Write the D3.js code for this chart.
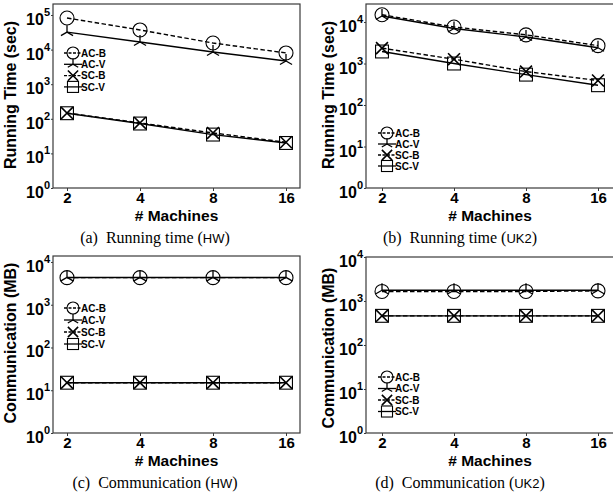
<!DOCTYPE html>
<html><head><meta charset="utf-8">
<script src="https://cdn.jsdelivr.net/npm/d3@7"></script>
<style>
html,body{margin:0;padding:0;background:#fff;}
svg{display:block;}
</style></head>
<body>
<svg id="chart" width="613" height="495"></svg>
<script>
// ---- data ----
const machines = [2, 4, 8, 16];
const xTickLabels = ["2", "4", "8", "16"];
const seriesNames = ["AC-B", "AC-V", "SC-B", "SC-V"];
const seriesDashed = [true, false, true, false];
const seriesMarkers = ["circle", "tristar", "cross", "square"];

// (a) Running time (HW), seconds
const hwTimeACB = [82000, 37000, 15500, 8000];
const hwTimeACV = [32000, 16600, 8500, 4700];
const hwTimeSCB = [147, 76, 39, 21];
const hwTimeSCV = [145, 73, 35, 20];
// (b) Running time (UK2), seconds
const uk2TimeACB = [15000, 7600, 4900, 2700];
const uk2TimeACV = [14000, 7000, 4350, 2400];
const uk2TimeSCB = [2350, 1270, 640, 390];
const uk2TimeSCV = [1950, 1000, 540, 300];
// (c) Communication (HW), MB
const hwCommACB = [4300, 4300, 4300, 4300];
const hwCommACV = [4350, 4350, 4350, 4350];
const hwCommSCB = [15, 15, 15, 15];
const hwCommSCV = [15, 15, 15, 15];
// (d) Communication (UK2), MB
const uk2CommACB = [1650, 1650, 1650, 1700];
const uk2CommACV = [1750, 1750, 1750, 1750];
const uk2CommSCB = [460, 460, 460, 460];
const uk2CommSCV = [460, 460, 460, 460];

const yTickExponents = [0, 1, 2, 3, 4, 5];

const svg = d3.select("#chart");
const SANS = "'Liberation Sans', Arial, sans-serif";
const SERIF = "'Liberation Serif', 'Times New Roman', serif";

function drawMarker(g, type, cx, cy, s) {
  const st = "#000";
  if (type === "circle") {
    g.append("circle").attr("cx", cx).attr("cy", cy).attr("r", s)
      .attr("fill", "none").attr("stroke", st).attr("stroke-width", 1.1);
  } else if (type === "tristar") {
    [-90, 150, 30].forEach(a => {
      const r = a * Math.PI / 180;
      g.append("line").attr("x1", cx).attr("y1", cy)
        .attr("x2", cx + s * Math.cos(r)).attr("y2", cy + s * Math.sin(r))
        .attr("stroke", st).attr("stroke-width", 1.3);
    });
  } else if (type === "cross") {
    const d = s * 0.85;
    g.append("path").attr("d", `M${cx-d},${cy-d}L${cx+d},${cy+d}M${cx-d},${cy+d}L${cx+d},${cy-d}`)
      .attr("stroke", st).attr("stroke-width", 1.6).attr("fill", "none");
  } else if (type === "square") {
    const d = s * 0.92;
    g.append("rect").attr("x", cx - d).attr("y", cy - d).attr("width", 2 * d).attr("height", 2 * d)
      .attr("fill", "none").attr("stroke", st).attr("stroke-width", 1.1);
  }
}

function drawPanel(cfg) {
  const g = svg.append("g");
  const x = d3.scaleLog().base(2).domain([2, 16]).range([cfg.x2, cfg.x16]);
  const y = d3.scaleLog().domain([1, cfg.yMax]).range([cfg.bottom, cfg.top]);

  // frame
  g.append("rect").attr("x", cfg.left).attr("y", cfg.top)
    .attr("width", cfg.right - cfg.left).attr("height", cfg.bottom - cfg.top)
    .attr("fill", "none").attr("stroke", "#3a3a3a").attr("stroke-width", 1.2);

  // x axis
  const xAxis = d3.axisBottom(x).tickValues(machines)
    .tickFormat((d, i) => xTickLabels[i]).tickSize(3).tickPadding(1);
  const xg = g.append("g").attr("transform", `translate(0,${cfg.bottom})`).call(xAxis);
  xg.select(".domain").remove();
  xg.selectAll(".tick line").attr("stroke", "#3a3a3a");
  xg.selectAll(".tick text").attr("font-family", SANS).attr("font-weight", "bold")
    .attr("font-size", 15).attr("fill", "#000").attr("dy", "0.71em");

  // y axis
  const yVals = yTickExponents.map(e => Math.pow(10, e)).filter(v => v <= cfg.yMax * 1.001);
  const yAxis = d3.axisLeft(y).tickValues(yVals).tickFormat("").tickSize(2);
  const yg = g.append("g").attr("transform", `translate(${cfg.left},0)`).call(yAxis);
  yg.select(".domain").remove();
  yg.selectAll(".tick line").attr("stroke", "#3a3a3a");
  yVals.forEach(v => {
    const e = Math.round(Math.log10(v));
    const t = g.append("text").attr("x", cfg.left - 3).attr("y", y(v) + 10)
      .attr("text-anchor", "end").attr("font-family", SANS).attr("font-weight", "bold")
      .attr("font-size", 16).attr("fill", "#000");
    t.append("tspan").text("10");
    t.append("tspan").attr("font-size", 11).attr("dy", -9).text(String(e));
  });

  // axis titles
  g.append("text").attr("x", (cfg.x2 + cfg.x16) / 2).attr("y", cfg.bottom + 32.5)
    .attr("text-anchor", "middle").attr("font-family", SANS).attr("font-weight", "bold")
    .attr("font-size", 15.5).text("# Machines");
  g.append("text").attr("transform", `translate(${cfg.titleX},${cfg.titleY}) rotate(-90)`)
    .attr("text-anchor", "middle").attr("font-family", SANS).attr("font-weight", "bold")
    .attr("font-size", 16).text(cfg.yTitle);

  // series
  const line = d3.line().x((d, i) => x(machines[i])).y(d => y(d));
  cfg.series.forEach((vals, si) => {
    g.append("path").datum(vals).attr("d", line).attr("fill", "none")
      .attr("stroke", "#000").attr("stroke-width", 1.4)
      .attr("stroke-dasharray", seriesDashed[si] ? "4.5,2.5" : null);
  });
  cfg.series.forEach((vals, si) => {
    vals.forEach((v, i) => drawMarker(g, seriesMarkers[si], x(machines[i]), y(v), 7));
  });

  // legend
  seriesNames.forEach((name, si) => {
    const ly = cfg.legY + si * cfg.legGap;
    g.append("line").attr("x1", cfg.legX - 9).attr("x2", cfg.legX + 9)
      .attr("y1", ly).attr("y2", ly).attr("stroke", "#000").attr("stroke-width", 1.3)
      .attr("stroke-dasharray", seriesDashed[si] ? "3,1.5" : null);
    drawMarker(g, seriesMarkers[si], cfg.legX, ly, 6);
    g.append("text").attr("x", cfg.legX + 8).attr("y", ly + 3.6)
      .attr("font-family", SANS).attr("font-weight", "bold").attr("font-size", 10)
      .text(name);
  });

  // caption
  const cap = g.append("text").attr("x", cfg.capX).attr("y", cfg.capY)
    .attr("text-anchor", "middle").attr("font-family", SERIF).attr("font-size", 16).attr("fill", "#000");
  cap.append("tspan").text(cfg.capText + " (");
  cap.append("tspan").attr("font-family", SANS).attr("font-size", 13).text(cfg.capData);
  cap.append("tspan").text(")");
}

drawPanel({id: "a", left: 53, right: 300, top: 4, bottom: 188, x2: 67, x16: 286,
  yMax: 208000, yTitle: "Running Time (sec)", titleX: 16, titleY: 95,
  series: [hwTimeACB, hwTimeACV, hwTimeSCB, hwTimeSCV],
  legX: 73, legY: 53, legGap: 11.3, capX: 155, capY: 243,
  capText: "(a)\u2002Running time", capData: "HW"});
drawPanel({id: "b", left: 366, right: 625, top: 4, bottom: 188, x2: 382, x16: 598,
  yMax: 27200, yTitle: "Running Time (sec)", titleX: 334, titleY: 95,
  series: [uk2TimeACB, uk2TimeACV, uk2TimeSCB, uk2TimeSCV],
  legX: 387, legY: 133, legGap: 11, capX: 460, capY: 243,
  capText: "(b)\u2002Running time", capData: "UK2"});
drawPanel({id: "c", left: 53, right: 300, top: 256, bottom: 433, x2: 67, x16: 286,
  yMax: 13800, yTitle: "Communication (MB)", titleX: 16, titleY: 343,
  series: [hwCommACB, hwCommACV, hwCommSCB, hwCommSCV],
  legX: 73, legY: 308, legGap: 12, capX: 155, capY: 488,
  capText: "(c)\u2002Communication", capData: "HW"});
drawPanel({id: "d", left: 366, right: 625, top: 257, bottom: 433, x2: 382, x16: 598,
  yMax: 10000, yTitle: "Communication (MB)", titleX: 334, titleY: 348,
  series: [uk2CommACB, uk2CommACV, uk2CommSCB, uk2CommSCV],
  legX: 387, legY: 377, legGap: 11.5, capX: 460, capY: 488,
  capText: "(d)\u2002Communication", capData: "UK2"});
</script>
</body></html>
